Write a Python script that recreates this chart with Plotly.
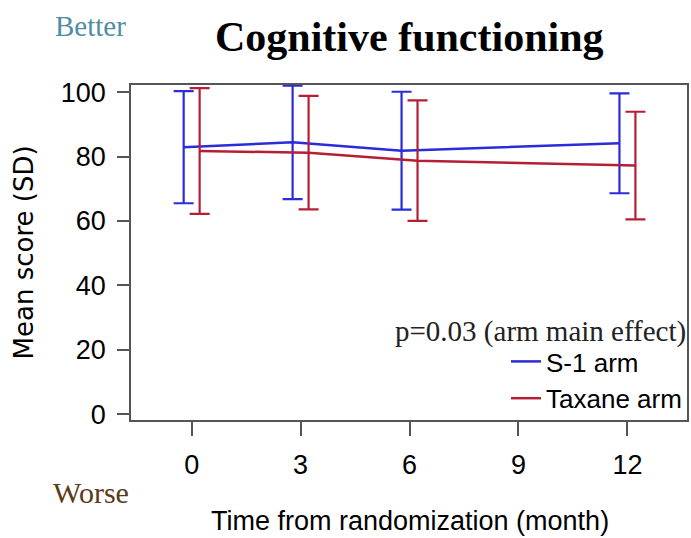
import plotly.graph_objects as go

months = [0, 3, 6, 12]
tick_vals = [0, 3, 6, 9, 12]
s1_mean = [82.9, 84.4, 81.8, 84.1]
s1_sd = [17.4, 17.6, 18.3, 15.5]
tax_mean = [81.7, 81.2, 78.7, 77.2]
tax_sd = [19.5, 17.6, 18.7, 16.7]
dodge = 0.22

BLUE = "#2b2bd9"
RED = "#b51f36"
SANS = "Liberation Sans, Arial, sans-serif"
SERIF = "Liberation Serif, Times New Roman, serif"

W, H = 691, 538
ML, MR, MT, MB = 131, 2, 85, 118
PW, PH = W - ML - MR, H - MT - MB


def px(x):
    return (x - ML) / PW


def py(y):
    return (H - MB - y) / PH


fig = go.Figure()
fig.add_trace(go.Scatter(
    x=[m - dodge for m in months], y=s1_mean, mode="lines", name="S-1 arm",
    line=dict(color=BLUE, width=2.5),
    error_y=dict(type="data", array=s1_sd, symmetric=True, color=BLUE,
                 thickness=2.2, width=10),
))
fig.add_trace(go.Scatter(
    x=[m + dodge for m in months], y=tax_mean, mode="lines", name="Taxane arm",
    line=dict(color=RED, width=2.5),
    error_y=dict(type="data", array=tax_sd, symmetric=True, color=RED,
                 thickness=2.2, width=10),
))

axis_common = dict(showline=True, mirror=True, linecolor="#555555", linewidth=1.5,
                   ticks="outside", tickcolor="#555555", tickwidth=1.5,
                   showgrid=False, zeroline=False,
                   tickfont=dict(family=SANS, size=27, color="black"))
fig.update_xaxes(range=[-1.67, 13.64], tickvals=tick_vals, ticklen=14,
                 ticklabelstandoff=6, **axis_common)
fig.update_yaxes(range=[-1.77, 102.2], tickvals=[0, 20, 40, 60, 80, 100], ticklen=12,
                 ticklabelstandoff=6, **axis_common)

annotations = [
    dict(text="<b>Cognitive functioning</b>", x=px(411), y=py(37),
         font=dict(family=SERIF, size=42, color="black")),
    dict(text="Better", x=px(90), y=py(26),
         font=dict(family=SERIF, size=29, color="#4f8ea5")),
    dict(text="Worse", x=px(91), y=py(492),
         font=dict(family=SERIF, size=30, color="#5a3a17")),
    dict(text="Mean score (SD)", x=px(24), y=py(252), textangle=-90,
         font=dict(family="DejaVu Sans, sans-serif", size=26, color="black")),
    dict(text="Time from randomization (month)", x=px(411), y=py(521),
         font=dict(family=SANS, size=27, color="black")),
    dict(text="p=0.03 (arm main effect)", x=px(690), y=py(331), xanchor="right",
         font=dict(family=SERIF, size=29, color="#222222")),
]
for a in annotations:
    a.setdefault("xanchor", "center")
    a.update(xref="paper", yref="paper", yanchor="middle", showarrow=False)
fig.update_layout(annotations=annotations)

fig.update_layout(
    width=W, height=H,
    margin=dict(l=ML, r=MR, t=MT, b=MB),
    paper_bgcolor="white", plot_bgcolor="white",
    showlegend=True,
    legend=dict(x=1.0, xanchor="right", y=py(338), yanchor="top",
                bgcolor="rgba(0,0,0,0)", font=dict(family=SANS, size=26, color="black"),
                tracegroupgap=0),
)

fig.write_html("out.html")
